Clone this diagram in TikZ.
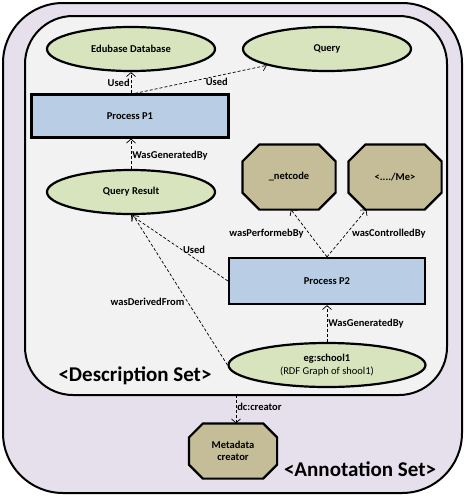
\documentclass[tikz,border=0pt]{standalone}
\usepackage{fontspec}
\setmainfont{Carlito}
\usetikzlibrary{shapes.geometric,arrows.meta}
\pgfdeclarelayer{background}
\pgfsetlayers{background,main}
\definecolor{outerfill}{HTML}{E6E0EC}
\definecolor{innerfill}{HTML}{F2F2F2}
\definecolor{ellfill}{HTML}{D7E4BD}
\definecolor{procfill}{HTML}{B9CDE5}
\definecolor{octfill}{HTML}{C4BD97}
\tikzset{
  base/.style={draw=black,line width=2.2pt,inner sep=0pt,font=\fontsize{10.5}{12}\selectfont\bfseries,align=center},
  ent/.style={base,ellipse,fill=ellfill,minimum width=168pt,minimum height=44pt},
  proc/.style={base,rectangle,fill=procfill},
  agent/.style={base,draw=none,rectangle,minimum width=91pt,minimum height=63pt},
  octline/.style={draw=black,line width=2.2pt,fill=octfill,line join=miter},
  rel/.style={draw=black,line width=0.7pt,dash pattern=on 3pt off 2pt,-{Straight Barb[length=4pt,width=9pt,line width=0.7pt]}},
  lbl/.style={font=\fontsize{10.5}{12}\selectfont\bfseries,inner sep=1pt},
  settitle/.style={font=\fontsize{21}{24}\selectfont\bfseries,inner sep=0pt}
}
\newcommand\octshape[2]{%
  \begin{pgfonlayer}{background}
  \draw[octline] ([xshift=#2]#1.north west) -- ([xshift=-#2]#1.north east)
    -- ([yshift=-#2]#1.north east) -- ([yshift=#2]#1.south east)
    -- ([xshift=-#2]#1.south east) -- ([xshift=#2]#1.south west)
    -- ([yshift=#2]#1.south west) -- ([yshift=-#2]#1.north west) -- cycle;
  \end{pgfonlayer}}
\begin{document}
\begin{tikzpicture}[x=1pt,y=-1pt]
\useasboundingbox (0,0) rectangle (466,496);
\begin{pgfonlayer}{background}
\draw[line width=2pt,fill=outerfill,rounded corners=60pt] (3,3) rectangle (462,493);
\draw[line width=2pt,fill=innerfill,rounded corners=48pt] (25,16) rectangle (447,395);
\end{pgfonlayer}
\coordinate (innerbot) at (236,395);

\node[ent] (edu) at (131,49) {Edubase Database};
\node[ent] (query) at (327,49) {Query};
\node[proc,minimum width=197pt,minimum height=43pt] (p1) at (130,116) {Process P1};
\node[ent] (qres) at (131,192) {Query Result};
\node[agent] (net) at (289,177) {\_netcode};
\node[agent] (me) at (395,177) {<..../Me>};
\node[proc,minimum width=196pt,minimum height=46pt] (p2) at (327,281) {Process P2};
\node[ent,minimum width=197pt] (school) at (327,365) {eg:school1\\[1pt]{\mdseries (RDF Graph of shool1)}};
\node[agent,minimum width=86pt,minimum height=53pt] (meta) at (233,451) {Metadata\\creator};
\octshape{net}{17pt}
\octshape{me}{17pt}
\octshape{meta}{14pt}

\node[settitle] (dset) at (135,376) {<Description Set>};
\node[settitle] (aset) at (360,469) {<Annotation Set>};

\draw[rel] (p1.north -| edu.south) -- node[lbl,left] {Used} (edu.south);
\draw[rel] ([xshift=5pt]p1.north) -- node[lbl,pos=0.62,below=1pt] {Used} (query.south west);
\draw[rel] (qres.north) -- node[lbl,right,pos=0.45] {WasGeneratedBy} (p1.south -| qres.north);
\draw[rel] (p2.north) -- node[lbl,pos=0.5,left=4pt] {wasPerformebBy} ([xshift=2pt]net.south);
\draw[rel] (p2.north) -- node[lbl,pos=0.5,right=4pt] {wasControlledBy} ([xshift=18pt]me.south west);
\draw[rel] (p2.west) -- node[lbl,pos=0.35,above=3pt] {Used} (qres.south);
\draw[rel] (school.west) -- node[lbl,pos=0.42,left=2pt] {wasDerivedFrom} ([xshift=2pt]qres.south);
\draw[rel] (school.north) -- node[lbl,right,pos=0.5] {WasGeneratedBy} (p2.south);
\draw[rel] (innerbot) -- node[lbl,right,pos=0.4] {dc:creator} (meta.north -| innerbot);
\end{tikzpicture}
\end{document}
